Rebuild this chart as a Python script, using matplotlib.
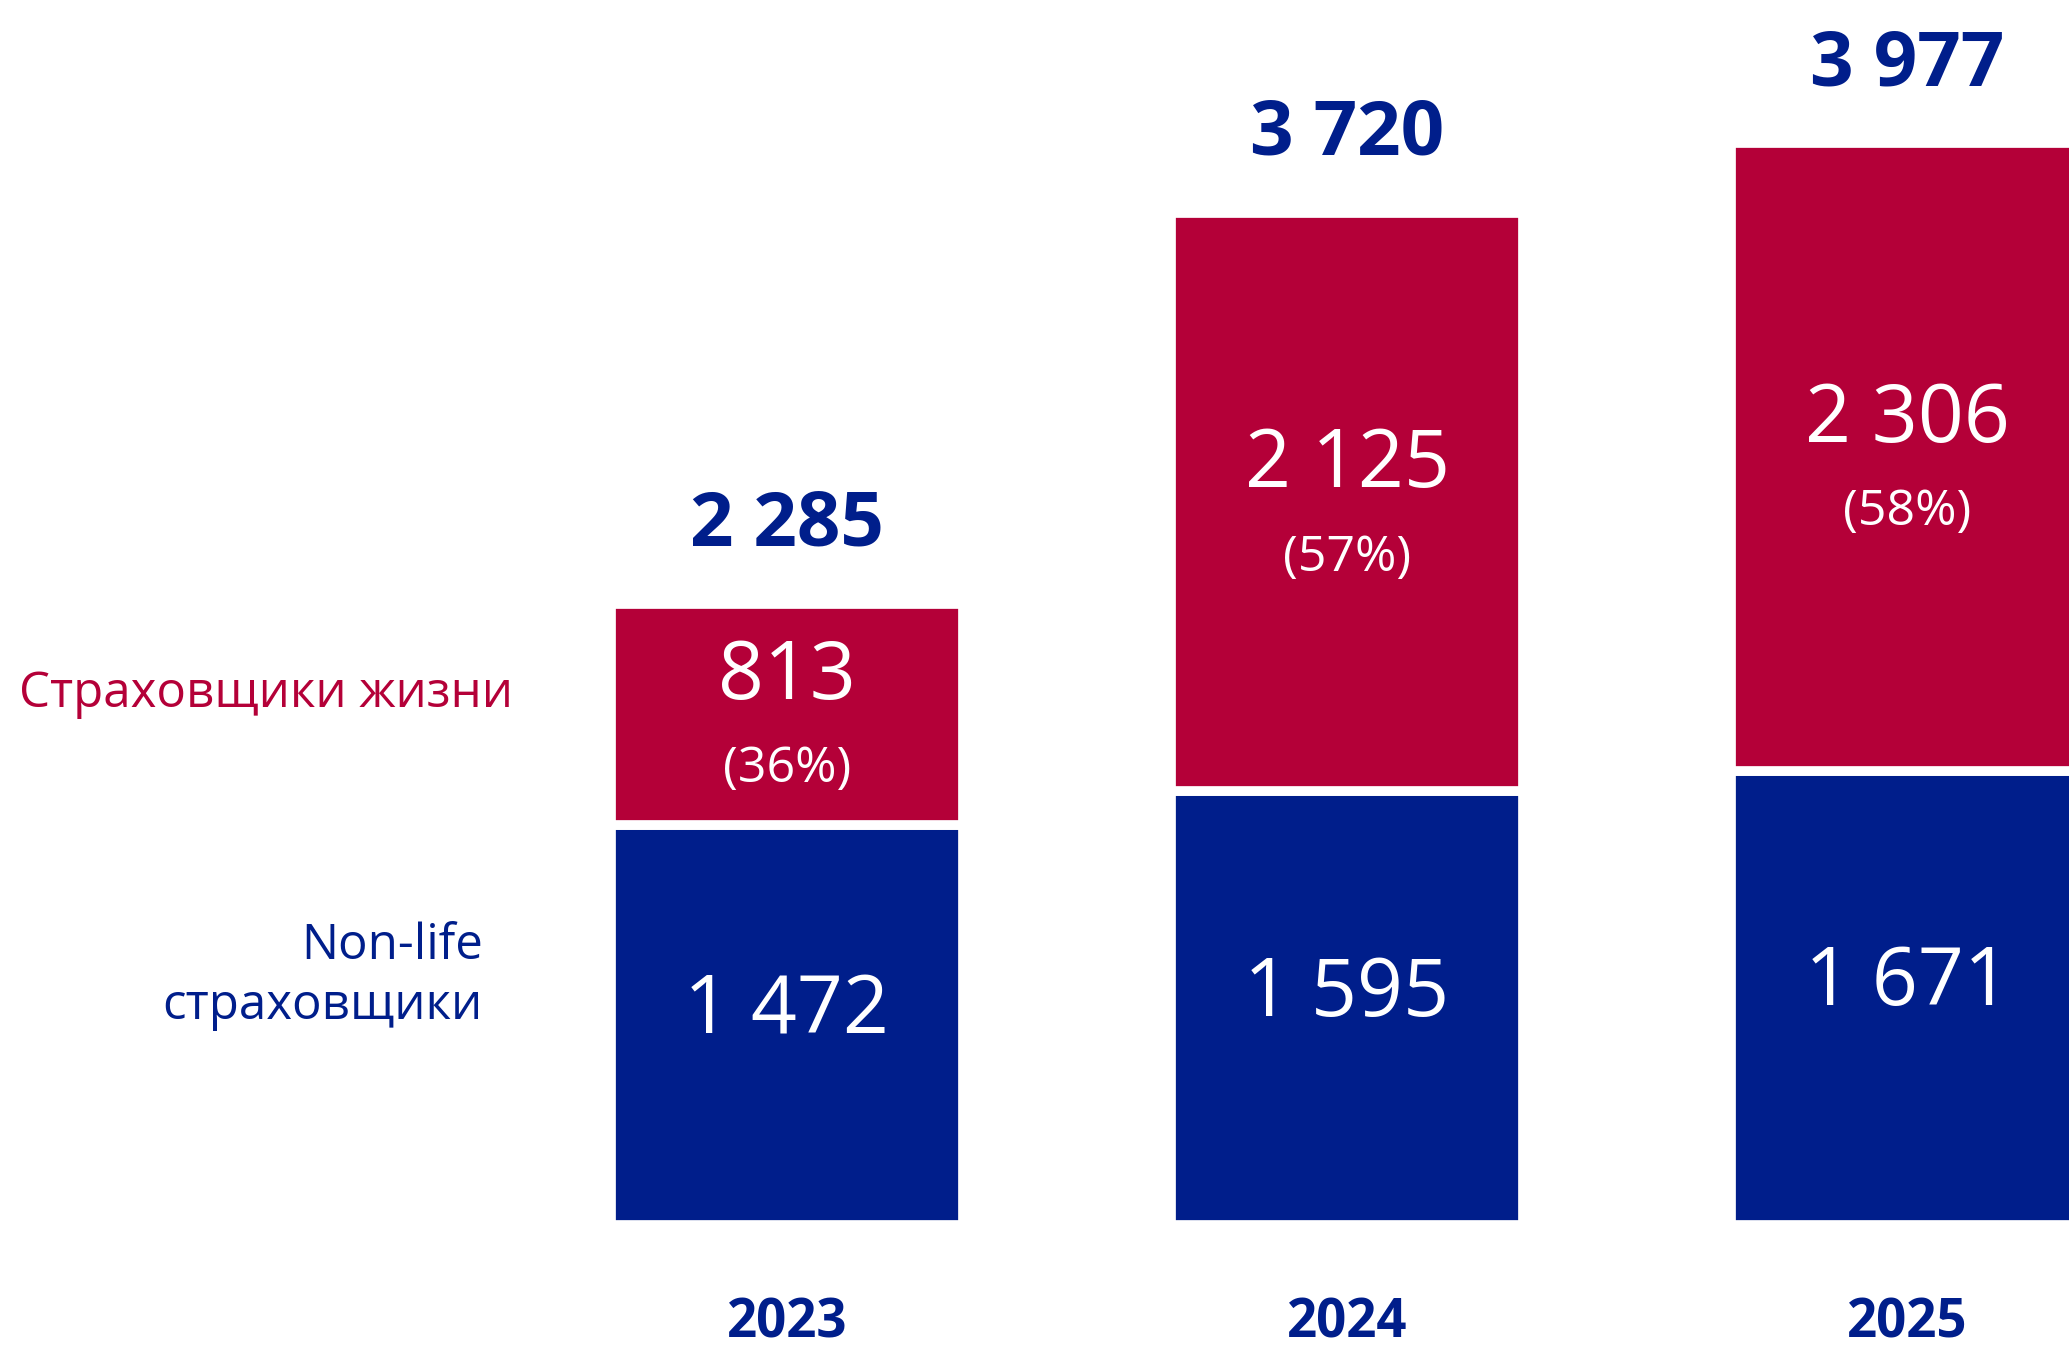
import matplotlib
matplotlib.use("Agg")
import matplotlib.pyplot as plt

years = ['2023', '2024', '2025']
non_life = [1472, 1595, 1671]
life = [813, 2125, 2306]
totals = [2285, 3720, 3977]
life_share = [36, 57, 58]

RED = '#B40038'
BLUE = '#001E8B'

def fmt(v):
    # пробел как разделитель тысяч
    return f"{v:,}".replace(",", " ")

plt.rcParams['font.family'] = ['Open Sans', 'DejaVu Sans']

fig = plt.figure(figsize=(20.69, 13.48), dpi=100)
ax = fig.add_axes([0, 0, 1, 1])

x = list(range(len(years)))
w = 0.63
ax.bar(x, non_life, width=w, color=BLUE, edgecolor='white', linewidth=7)
ax.bar(x, life, width=w, bottom=non_life, color=RED, edgecolor='white', linewidth=7)

for i in x:
    ax.annotate(fmt(non_life[i]), (i, non_life[i] / 2), xytext=(0, 10), textcoords='offset points',
                ha='center', va='center', color='white', fontsize=58)
    mid = non_life[i] + life[i] / 2
    ax.annotate(fmt(life[i]), (i, mid), xytext=(0, 26), textcoords='offset points',
                ha='center', va='center', color='white', fontsize=58)
    ax.annotate(f"({life_share[i]}%)", (i, mid), xytext=(0, -40), textcoords='offset points',
                ha='center', va='center', color='white', fontsize=36)
    ax.annotate(fmt(totals[i]), (i, totals[i]), xytext=(0, 56), textcoords='offset points',
                ha='center', va='center', color=BLUE, fontsize=55, fontweight='bold')
    ax.annotate(years[i], (i, 0), xytext=(0, -71), textcoords='offset points',
                ha='center', va='center', color=BLUE, fontsize=38, fontweight='bold')

# подписи серий слева от первого столбца
ax.annotate("Страховщики жизни", (-w / 2, non_life[0] + life[0] / 2), xytext=(-70, 14),
            textcoords='offset points', ha='right', va='center', color=RED, fontsize=35.5)
ax.annotate("Non-life\nстраховщики", (-w / 2, non_life[0] / 2), xytext=(-92, 35),
            textcoords='offset points', ha='right', va='center', color=BLUE, fontsize=35.5,
            linespacing=1.3)

ax.set_xlim(-1.405, 2.289)
ax.set_ylim(-452, 4504)
ax.axis('off')

fig.savefig("out.png", dpi=100, facecolor='white')
